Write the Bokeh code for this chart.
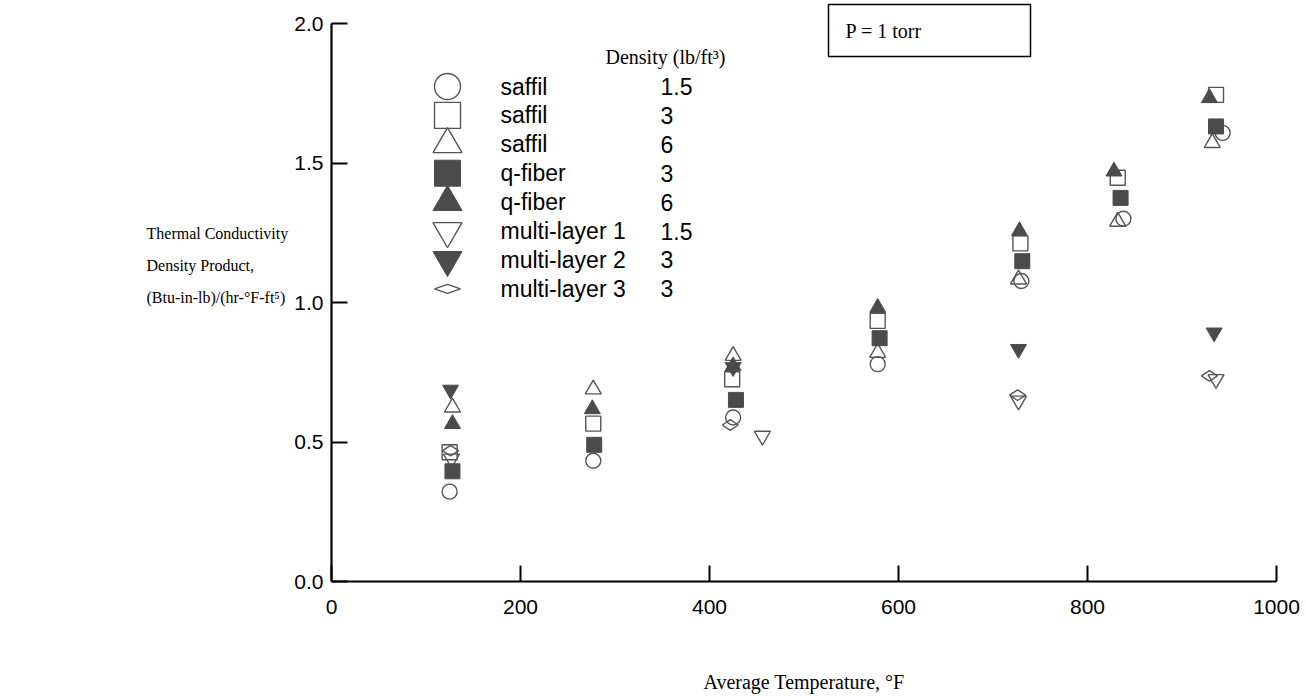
from bokeh.plotting import figure
from bokeh.layouts import row
from bokeh.models import Range1d, FixedTicker, NumeralTickFormatter, Label, BoxAnnotation
from bokeh.embed import file_html
from bokeh.resources import INLINE

# ---------------- data ----------------
saffil_15_x = [125, 277, 425, 578, 730, 838, 943]
saffil_15_y = [0.322, 0.433, 0.588, 0.779, 1.077, 1.300, 1.608]
saffil_3_x = [125, 277, 424, 578, 729, 832, 936]
saffil_3_y = [0.463, 0.566, 0.725, 0.934, 1.212, 1.447, 1.744]
saffil_6_x = [128, 277, 425, 578, 727, 832, 932]
saffil_6_y = [0.624, 0.689, 0.809, 0.820, 1.083, 1.290, 1.572]
qfiber_3_x = [128, 278, 428, 580, 731, 835, 936]
qfiber_3_y = [0.395, 0.490, 0.651, 0.872, 1.148, 1.375, 1.631]
qfiber_6_x = [128, 276, 425, 578, 728, 828, 929]
qfiber_6_y = [0.565, 0.618, 0.772, 0.981, 1.256, 1.470, 1.733]
ml1_x = [127, 456, 727, 936]
ml1_y = [0.440, 0.522, 0.648, 0.725]
ml2_x = [126, 425, 727, 934]
ml2_y = [0.687, 0.768, 0.833, 0.892]
ml3_x = [126, 422, 726, 929]
ml3_y = [0.469, 0.561, 0.668, 0.737]

legend_names = ["saffil", "saffil", "saffil", "q-fiber", "q-fiber",
                "multi-layer 1", "multi-layer 2", "multi-layer 3"]
legend_density = ["1.5", "3", "6", "3", "6", "1.5", "3", "3"]

x_ticks = [0, 200, 400, 600, 800, 1000]
y_ticks = [0.0, 0.5, 1.0, 1.5, 2.0]

y_title_lines = ["Thermal Conductivity", "Density Product,", "(Btu-in-lb)/(hr-°F-ft⁵)"]
x_title = "Average Temperature, °F"

# ---------------- layout ----------------
W, H = 1306, 696
LW = 291                      # width of the side panel that holds the y title
FL, FR, FB = 331, 1276, 581   # frame edges in page pixels (x=0, x=1000, y=0)
PY2 = 23                      # page pixel of y = 2.0
X0, X1, Y0, Y1 = 0, 1000, 0, 2.0


def X(px):
    return X0 + (px - FL) / (FR - FL) * (X1 - X0)


def Y(py):
    return Y0 + (FB - py) / (FB - PY2) * (Y1 - Y0)


FILL = "#4b4b4b"
LINE = "#555555"
SANS = "Liberation Sans"
SERIF = "Liberation Serif"

y_range = Range1d(Y0, Y(0))

# ---- side panel with the y-axis title (shares the y scale of the plot) ----
side = figure(width=LW, height=H, x_range=Range1d(0, LW), y_range=y_range,
              output_backend="svg", toolbar_location=None, title=None,
              x_axis_type=None, y_axis_type=None,
              min_border_left=0, min_border_right=0, min_border_top=0, min_border_bottom=H - FB)
side.outline_line_color = None
side.grid.visible = False
for i, txt in enumerate(y_title_lines):
    side.add_layout(Label(x=146, y=Y(233 + 32 * i), text=txt, text_font=SERIF,
                          text_font_size="16px", text_baseline="middle", text_align="left",
                          text_color="black"))

# ---- main plot ----
p = figure(width=W - LW, height=H, x_range=Range1d(X0, X1), y_range=y_range,
           output_backend="svg", toolbar_location=None, title=None,
           min_border_left=FL - LW, min_border_right=W - FR,
           min_border_top=0, min_border_bottom=H - FB)
p.outline_line_color = None
p.grid.visible = False
p.background_fill_color = "white"
p.border_fill_color = "white"

for ax in (p.xaxis, p.yaxis):
    ax.axis_line_width = 2.2
    ax.axis_line_color = "black"
    ax.major_tick_in = 16
    ax.major_tick_out = 0
    ax.major_tick_line_width = 2
    ax.major_tick_line_color = "black"
    ax.minor_tick_line_color = None
    ax.major_label_text_font = SANS
    ax.major_label_text_font_size = "21px"
    ax.major_label_text_color = "black"
p.xaxis.ticker = FixedTicker(ticks=x_ticks)
p.yaxis.ticker = FixedTicker(ticks=y_ticks)
p.yaxis.bounds = (Y0, Y1)
p.xaxis.bounds = (X0, X1)
p.yaxis.formatter = NumeralTickFormatter(format="0.0")
p.xaxis.major_label_standoff = 18
p.yaxis.major_label_standoff = 8

p.xaxis.axis_label = x_title
p.xaxis.axis_label_text_font = SERIF
p.xaxis.axis_label_text_font_size = "20px"
p.xaxis.axis_label_text_font_style = "normal"
p.xaxis.axis_label_text_color = "black"
p.xaxis.axis_label_standoff = 54

# ---------------- series ----------------
open_kw = dict(fill_alpha=0, line_color=LINE, line_width=1.4)
fill_kw = dict(fill_color=FILL, line_color=FILL, line_width=1)

p.scatter(saffil_15_x, saffil_15_y, marker="circle", size=15, **open_kw)
p.scatter(saffil_3_x, saffil_3_y, marker="square", size=15, **open_kw)
p.scatter(saffil_6_x, saffil_6_y, marker="triangle", size=16, **open_kw)
p.scatter(ml1_x, ml1_y, marker="inverted_triangle", size=16, **open_kw)
p.scatter(ml3_x, ml3_y, marker="diamond", size=16, angle=1.5708, **open_kw)
p.scatter(qfiber_3_x, qfiber_3_y, marker="square", size=15, **fill_kw)
p.scatter(qfiber_6_x, qfiber_6_y, marker="triangle", size=16, **fill_kw)
p.scatter(ml2_x, ml2_y, marker="inverted_triangle", size=16, **fill_kw)

# ---------------- legend (drawn by hand) ----------------
leg_px = 447
leg_py0 = 86
leg_dy = 28.9
leg_markers = ["circle", "square", "triangle", "square", "triangle",
               "inverted_triangle", "inverted_triangle", "diamond"]
leg_filled = [False, False, False, True, True, False, True, False]
leg_sizes = [26, 26, 29, 26, 29, 29, 29, 0]
for i, (mk, fl, sz) in enumerate(zip(leg_markers, leg_filled, leg_sizes)):
    cy = leg_py0 + i * leg_dy
    if mk == "diamond":
        xs = [X(leg_px - 13), X(leg_px), X(leg_px + 13), X(leg_px)]
        ys = [Y(cy), Y(cy - 4.5), Y(cy), Y(cy + 4.5)]
        p.patch(xs, ys, fill_alpha=0, line_color=LINE, line_width=1.4)
    else:
        kw = fill_kw if fl else open_kw
        p.scatter([X(leg_px)], [Y(cy)], marker=mk, size=sz, **kw)
    p.add_layout(Label(x=X(500), y=Y(cy), text=legend_names[i], text_font=SANS,
                       text_font_size="23px", text_baseline="middle", text_align="left",
                       text_color="black"))
    p.add_layout(Label(x=X(660), y=Y(cy), text=legend_density[i], text_font=SANS,
                       text_font_size="23px", text_baseline="middle", text_align="left",
                       text_color="black"))

p.add_layout(Label(x=X(605), y=Y(56), text="Density (lb/ft³)", text_font=SERIF,
                   text_font_size="20px", text_baseline="middle", text_align="left",
                   text_color="black"))

# ---------------- pressure box ----------------
p.add_layout(BoxAnnotation(left=X(828), right=X(1030), top=Y(4), bottom=Y(56),
                           fill_alpha=0, line_color="black", line_alpha=1.0, line_width=1.5))
p.add_layout(Label(x=X(845), y=Y(30), text="P = 1 torr", text_font=SERIF,
                   text_font_size="20px", text_baseline="middle", text_align="left",
                   text_color="black"))

layout = row(side, p, spacing=0)
open("out.html", "w").write(file_html(layout, INLINE))
